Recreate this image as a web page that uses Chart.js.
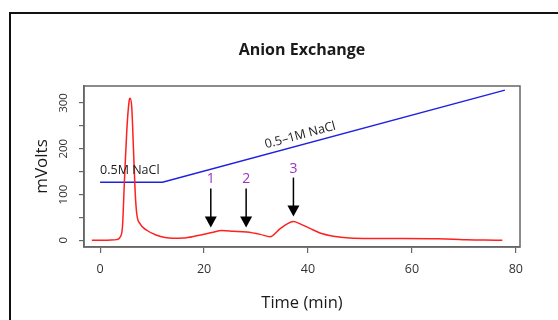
<!DOCTYPE html>
<html>
<head>
<meta charset="utf-8">
<script src="https://cdn.jsdelivr.net/npm/chart.js@4.4.1/dist/chart.umd.min.js"></script>
<style>
    body { margin: 0; background: #fff; }
    #wrap { width: 558px; height: 320px; }
</style>
</head>
<body>
<div id="wrap"><canvas id="myChart" width="558" height="320"></canvas></div>
<script>
// detector trace (mVolts over minutes)
const timeValues = [-1.6, 0, 2, 3.2, 3.85, 4.3, 4.68, 5.13, 5.58, 5.77, 6.09, 6.41, 6.73, 7.05, 7.7, 8.97, 10.9, 12.5, 14, 16, 18.6, 21.5, 23.4, 25.6, 28.2, 30.8, 32.7, 34.6, 36, 37.2, 38.5, 40.4, 42.3, 44.9, 48, 52, 58, 65, 68, 70.5, 74, 77.4];
const signalValues = [0, 0, 0.5, 1.5, 7, 29, 130, 239, 304, 310, 290, 203, 109, 58, 36, 22, 11, 6, 4.5, 5, 10, 17, 21.5, 20, 18, 13, 8, 25, 36, 41, 36, 26, 16, 9, 5, 4, 4, 3.5, 2.5, 1, 0.5, 0];

// salt gradient
const gradientTimes = [0, 12, 77.9];
const gradientValues = [127, 127, 328];

// peak markers
const arrowTimes = [21.3, 28.1, 37.2];
const arrowTops = [113, 113, 137];
const arrowTips = [28, 28, 52];
const arrowLabels = ['1', '2', '3'];
const arrowLabelValues = [133, 133, 155];

const xTicks = [0, 20, 40, 60, 80];
const yTicks = [0, 50, 100, 150, 200, 250, 300];
const yLabelTicks = [0, 100, 200, 300];

const fontFamily = '"Open Sans", sans-serif';
const axisColor = '#666';
const textColor = '#1a1a1a';

const trace = timeValues.map((t, i) => ({x: t, y: signalValues[i]}));
const gradient = gradientTimes.map((t, i) => ({x: t, y: gradientValues[i]}));

const decor = {
    id: 'decor',
    beforeDraw(chart) {
        const ctx = chart.ctx;
        ctx.save();
        ctx.fillStyle = '#fff';
        ctx.fillRect(0, 0, chart.width, chart.height);
        ctx.strokeStyle = '#111';
        ctx.lineWidth = 2;
        ctx.strokeRect(10, 13, 600, 400);
        ctx.restore();
    },
    afterDraw(chart) {
        const ctx = chart.ctx;
        const area = chart.chartArea;
        const x = chart.scales.x;
        const y = chart.scales.y;
        const midX = (area.left + area.right) / 2;
        ctx.save();

        // plot box
        ctx.strokeStyle = axisColor;
        ctx.lineWidth = 1.5;
        ctx.strokeRect(area.left, area.top, area.right - area.left, area.bottom - area.top);

        // y tick labels, rotated
        ctx.fillStyle = '#333';
        ctx.font = '11.5px ' + fontFamily;
        ctx.textAlign = 'center';
        ctx.textBaseline = 'middle';
        yLabelTicks.forEach(v => {
            ctx.save();
            ctx.translate(64, y.getPixelForValue(v));
            ctx.rotate(-Math.PI / 2);
            ctx.fillText(String(v), 0, 0);
            ctx.restore();
        });

        // titles
        ctx.fillStyle = textColor;
        ctx.textBaseline = 'alphabetic';
        ctx.font = 'bold 16px ' + fontFamily;
        ctx.fillText('Anion Exchange', midX, 55);
        ctx.font = '16.5px ' + fontFamily;
        ctx.fillText('Time (min)', midX, 308);
        ctx.save();
        ctx.translate(46.5, (area.top + area.bottom) / 2);
        ctx.rotate(-Math.PI / 2);
        ctx.font = '17px ' + fontFamily;
        ctx.fillText('mVolts', 0, 0);
        ctx.restore();

        // gradient labels
        ctx.font = '12.5px ' + fontFamily;
        ctx.textAlign = 'left';
        ctx.textBaseline = 'middle';
        ctx.fillText('0.5M NaCl', x.getPixelForValue(0), y.getPixelForValue(153));
        const x1 = x.getPixelForValue(gradientTimes[1]);
        const y1 = y.getPixelForValue(gradientValues[1]);
        const x2 = x.getPixelForValue(gradientTimes[2]);
        const y2 = y.getPixelForValue(gradientValues[2]);
        ctx.save();
        ctx.translate(x.getPixelForValue(38.5), y.getPixelForValue(229));
        ctx.rotate(Math.atan2(y2 - y1, x2 - x1));
        ctx.textAlign = 'center';
        ctx.fillText('0.5\u20131M NaCl', 0, 0);
        ctx.restore();

        // peak arrows
        arrowTimes.forEach((t, i) => {
            const px = x.getPixelForValue(t);
            const top = y.getPixelForValue(arrowTops[i]);
            const tip = y.getPixelForValue(arrowTips[i]);
            const head = 11;
            ctx.strokeStyle = '#000';
            ctx.lineWidth = 1.5;
            ctx.beginPath();
            ctx.moveTo(px, top);
            ctx.lineTo(px, tip - head + 1);
            ctx.stroke();
            ctx.fillStyle = '#000';
            ctx.beginPath();
            ctx.moveTo(px - 6, tip - head);
            ctx.lineTo(px + 6, tip - head);
            ctx.lineTo(px, tip);
            ctx.closePath();
            ctx.fill();

            ctx.fillStyle = '#9a30c8';
            ctx.font = '14px ' + fontFamily;
            ctx.textAlign = 'center';
            ctx.textBaseline = 'middle';
            ctx.fillText(arrowLabels[i], px, y.getPixelForValue(arrowLabelValues[i]));
        });

        ctx.restore();
    }
};

new Chart(document.getElementById('myChart'), {
    type: 'line',
    data: {
        datasets: [{
            label: 'signal',
            data: trace,
            borderColor: '#ff2020',
            borderWidth: 1.5,
            pointRadius: 0,
            cubicInterpolationMode: 'monotone',
            fill: false
        }, {
            label: 'NaCl',
            data: gradient,
            borderColor: '#2020e0',
            borderWidth: 1.5,
            pointRadius: 0,
            tension: 0,
            fill: false
        }]
    },
    options: {
        responsive: false,
        animation: false,
        events: [],
        layout: {
            padding: {top: 86, right: 38, left: 0, bottom: 0}
        },
        plugins: {
            legend: {display: false},
            title: {display: false},
            tooltip: {enabled: false}
        },
        scales: {
            x: {
                type: 'linear',
                min: -3.1,
                max: 80.8,
                afterBuildTicks: scale => {
                    scale.ticks = xTicks.map(v => ({value: v}));
                },
                afterFit: scale => {
                    scale.height = 73;
                },
                ticks: {
                    color: '#333',
                    font: {family: fontFamily, size: 12.5},
                    padding: 9,
                    maxRotation: 0
                },
                grid: {
                    drawOnChartArea: false,
                    tickLength: 6,
                    color: axisColor,
                    lineWidth: 1.2
                },
                border: {color: axisColor, width: 1.5}
            },
            y: {
                type: 'linear',
                min: -14.6,
                max: 337,
                afterBuildTicks: scale => {
                    scale.ticks = yTicks.map(v => ({value: v}));
                },
                afterFit: scale => {
                    scale.width = 84;
                },
                ticks: {display: false},
                grid: {
                    drawOnChartArea: false,
                    tickLength: 5,
                    color: axisColor,
                    lineWidth: 1.2
                },
                border: {color: axisColor, width: 1.5}
            }
        }
    },
    plugins: [decor]
});
</script>
</body>
</html>
